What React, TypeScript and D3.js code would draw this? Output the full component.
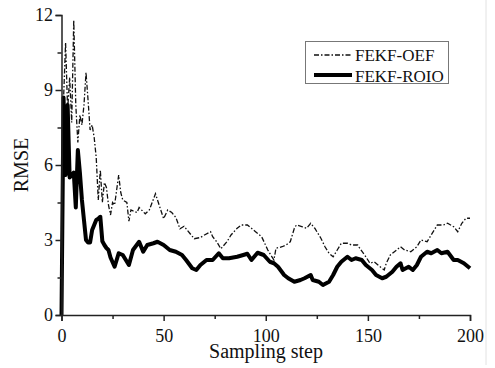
import React, { useEffect, useRef } from "react";
import * as d3 from "d3";

// FEKF-OEF (dash-dot)
const oefSteps = [0, 1, 2, 3, 4, 5, 6, 7, 8, 9, 10, 11, 12, 13, 14, 15, 16, 17, 18, 19, 20, 21, 22, 23, 24, 25, 26, 27, 28, 29, 30, 32, 33, 34, 37, 38, 41, 43, 46, 47, 50, 52, 54, 56, 58, 60, 63, 65, 68, 70, 73, 74, 76, 78, 81, 83, 86, 88, 91, 95, 98, 101, 104, 105, 108, 110, 112, 114, 115, 118, 120, 122, 124, 127, 129, 131, 133, 135, 137, 140, 142, 145, 146, 149, 151, 153, 156, 158, 159, 161, 163, 166, 168, 171, 174, 176, 179, 181, 184, 187, 189, 192, 194, 196, 198, 200];
const oefValues = [0, 8.6, 10.9, 8.2, 9.5, 7.7, 11.8, 8.4, 6.9, 8.0, 7.6, 8.4, 9.7, 8.6, 7.4, 7.6, 7.1, 6.3, 4.6, 5.8, 4.5, 5.3, 5.1, 4.4, 4.0, 4.5, 4.4, 5.0, 5.6, 4.9, 4.6, 4.5, 3.75, 4.2, 4.1, 4.3, 4.05, 4.2, 4.85, 4.6, 3.85, 4.2, 4.1, 3.9, 3.45, 3.55, 3.25, 3.05, 3.1, 3.2, 3.33, 3.13, 2.93, 2.65, 2.93, 3.2, 3.47, 3.6, 3.6, 3.33, 3.13, 2.6, 2.2, 2.67, 2.73, 2.8, 2.93, 3.47, 3.6, 3.53, 3.47, 3.67, 3.47, 3.07, 2.73, 2.47, 2.33, 2.6, 2.87, 2.87, 2.8, 2.8, 2.67, 2.33, 2.07, 2.13, 1.93, 1.8, 2.07, 2.4, 2.53, 2.73, 2.6, 2.53, 2.73, 3.0, 2.93, 3.2, 3.6, 3.6, 3.67, 3.53, 3.33, 3.67, 3.87, 3.87];

// FEKF-ROIO (thick solid)
const roioSteps = [0, 1, 2, 3, 4, 5, 6, 7, 8, 9, 10, 11, 12, 13, 14, 15, 16, 17, 18, 19, 20, 21, 22, 23, 24, 26, 28, 30, 33, 35, 38, 40, 42, 45, 47, 50, 53, 56, 59, 61, 64, 66, 68, 71, 74, 77, 79, 82, 86, 89, 91, 93, 96, 99, 102, 104, 106, 109, 111, 114, 117, 119, 122, 123, 126, 128, 131, 133, 135, 137, 140, 142, 144, 147, 149, 152, 154, 157, 159, 162, 164, 166, 167, 170, 172, 174, 176, 179, 181, 184, 186, 189, 192, 194, 197, 200];
const roioValues = [0, 8.7, 5.6, 8.4, 5.5, 5.6, 5.7, 4.3, 6.6, 5.7, 4.6, 3.8, 3.0, 2.9, 2.9, 3.4, 3.6, 3.8, 3.85, 3.93, 2.95, 2.8, 2.68, 2.6, 2.3, 1.93, 2.47, 2.4, 2.0, 2.6, 2.93, 2.53, 2.8, 2.87, 2.93, 2.8, 2.6, 2.53, 2.4, 2.2, 1.87, 1.8, 2.0, 2.2, 2.2, 2.47, 2.27, 2.27, 2.33, 2.4, 2.45, 2.2, 2.49, 2.4, 2.13, 2.07, 1.93, 1.6, 1.47, 1.33, 1.4, 1.47, 1.6, 1.4, 1.33, 1.2, 1.33, 1.6, 1.93, 2.13, 2.33, 2.2, 2.27, 2.2, 2.0, 1.8, 1.6, 1.47, 1.53, 1.73, 1.93, 2.07, 1.8, 1.93, 1.8, 2.0, 2.33, 2.53, 2.47, 2.6, 2.47, 2.53, 2.2, 2.2, 2.07, 1.87];

const xTicks = [0, 50, 100, 150, 200];
const xMinorTicks = [25, 75, 125, 175];
const yTicks = [0, 3, 6, 9, 12];
const yMinorTicks = [1.5, 4.5, 7.5, 10.5];
const legendLabels = ["FEKF-OEF", "FEKF-ROIO"];

const W = 495;
const H = 368;
const FONT = "'Liberation Serif', 'Times New Roman', serif";

export default function App() {
    const ref = useRef<SVGSVGElement>(null);

    useEffect(() => {
        const node = ref.current;
        if (!node) return;
        const svg = d3.select(node);
        svg.selectAll("*").remove();

        const x = d3.scaleLinear().domain([0, 200]).range([61.5, 470]);
        const y = d3.scaleLinear().domain([0, 12]).range([315, 15]);

        // faint image border on the right
        svg.append("line")
            .attr("x1", 486).attr("x2", 486).attr("y1", 0).attr("y2", 365)
            .attr("stroke", "#e2e2e2").attr("stroke-width", 1);

        const line = d3.line<[number, number]>()
            .x(d => x(d[0]))
            .y(d => y(d[1]));

        const oef: [number, number][] = oefSteps.map((s, i) => [s, oefValues[i]]);
        const roio: [number, number][] = roioSteps.map((s, i) => [s, roioValues[i]]);

        svg.append("path")
            .attr("d", line(oef))
            .attr("fill", "none")
            .attr("stroke", "#111")
            .attr("stroke-width", 1.3)
            .attr("stroke-dasharray", "5,2,1.5,2");

        svg.append("path")
            .attr("d", line(roio))
            .attr("fill", "none")
            .attr("stroke", "#000")
            .attr("stroke-width", 4)
            .attr("stroke-linejoin", "round");

        // axes
        const gx = svg.append("g").attr("transform", "translate(0,315)");
        gx.call(d3.axisBottom(x).tickValues(xTicks).tickSize(6).tickPadding(8).tickFormat(d3.format("d")));
        gx.append("g").call(d3.axisBottom(x).tickValues(xMinorTicks).tickSize(4).tickFormat(() => ""))
            .select(".domain").remove();

        const gy = svg.append("g").attr("transform", "translate(61.5,0)");
        gy.call(d3.axisLeft(y).tickValues(yTicks).tickSize(6).tickPadding(2.5).tickFormat(d3.format("d")));
        gy.append("g").call(d3.axisLeft(y).tickValues(yMinorTicks).tickSize(4).tickFormat(() => ""))
            .select(".domain").remove();

        svg.selectAll(".domain, .tick line")
            .attr("stroke", "#222")
            .attr("stroke-width", 1.5);
        svg.selectAll(".tick text")
            .attr("fill", "#111")
            .style("font-family", FONT)
            .style("font-size", "18px");

        svg.append("text")
            .attr("x", 266).attr("y", 358)
            .attr("text-anchor", "middle")
            .style("font-family", FONT).style("font-size", "20px")
            .attr("fill", "#111")
            .text("Sampling step");

        svg.append("text")
            .attr("transform", "translate(28,165) rotate(-90)")
            .attr("text-anchor", "middle")
            .style("font-family", FONT).style("font-size", "20px")
            .attr("fill", "#111")
            .text("RMSE");

        // legend
        const lg = svg.append("g");
        lg.append("rect")
            .attr("x", 305.5).attr("y", 41.5).attr("width", 143).attr("height", 42)
            .attr("fill", "#fff").attr("stroke", "#777").attr("stroke-width", 1);
        lg.append("line")
            .attr("x1", 314).attr("x2", 352).attr("y1", 55).attr("y2", 55)
            .attr("stroke", "#111").attr("stroke-width", 1.3)
            .attr("stroke-dasharray", "5,2,1.5,2");
        lg.append("line")
            .attr("x1", 314).attr("x2", 352).attr("y1", 75).attr("y2", 75)
            .attr("stroke", "#000").attr("stroke-width", 4);
        legendLabels.forEach((t, i) => {
            lg.append("text")
                .attr("x", 355).attr("y", 61 + 20.5 * i)
                .style("font-family", FONT).style("font-size", "17px")
                .attr("fill", "#111")
                .text(t);
        });
    }, []);

    return (
        <svg ref={ref} width={W} height={H}
            style={{ position: "absolute", left: 0, top: 0, background: "#fff" }} />
    );
}
